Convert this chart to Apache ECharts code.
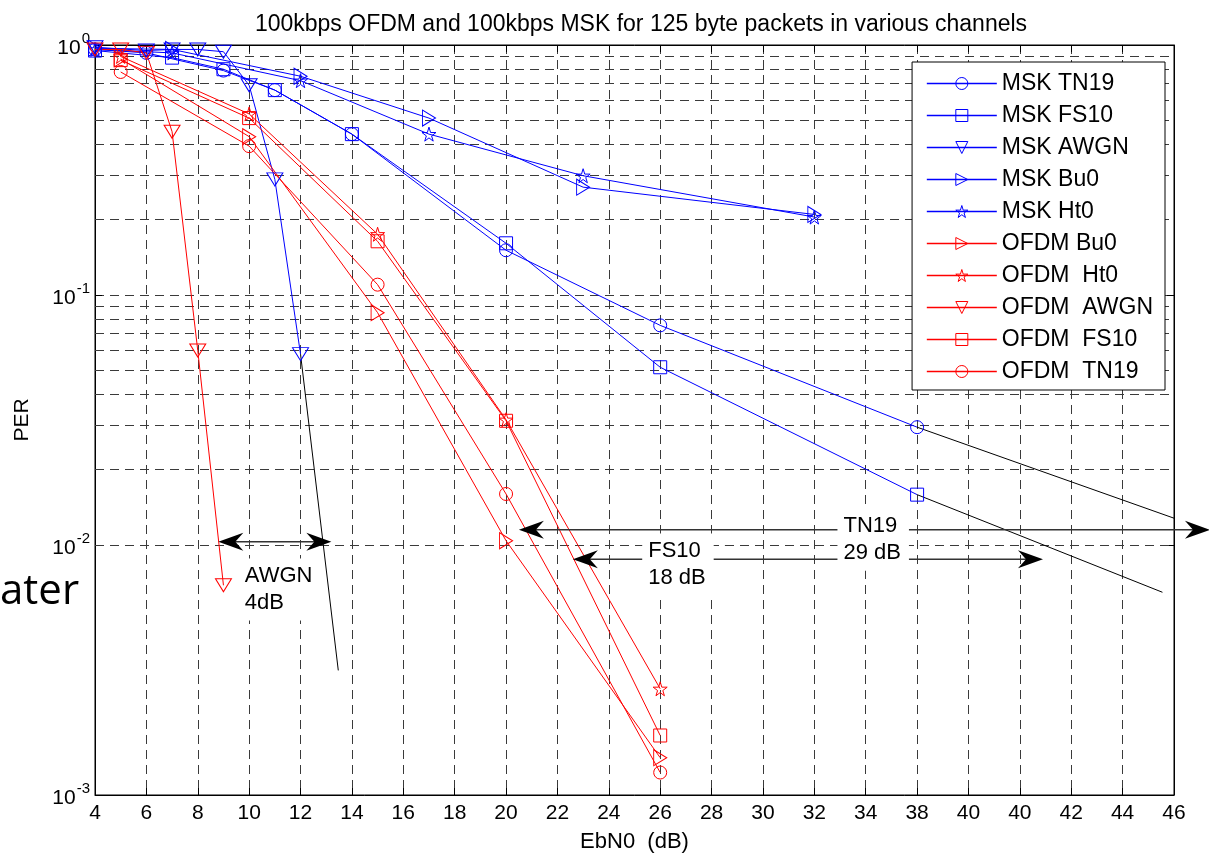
<!DOCTYPE html>
<html>
<head>
<meta charset="utf-8">
<script src="https://cdn.jsdelivr.net/npm/echarts@6/dist/echarts.min.js"></script>
<style>
  html, body { margin: 0; padding: 0; background: #fff; }
  #chart { width: 1209px; height: 853px; }
</style>
</head>
<body>
<div id="chart"></div>
<script>
// tick labels as printed under the x axis (positions 4..46 step 2)
const xTickLabels = ['4', '6', '8', '10', '12', '14', '16', '18', '20', '22', '24',
  '26', '28', '30', '32', '34', '38', '40', '40', '42', '44', '46'];

// MSK curves
const mskTn19X = [4, 6, 9, 11, 14, 20, 26, 36];
const mskTn19Y = [0.96, 0.93, 0.79, 0.66, 0.44, 0.151, 0.0756, 0.0296];
const mskFs10X = [4, 7, 9, 11, 14, 20, 26, 36];
const mskFs10Y = [0.95, 0.89, 0.80, 0.66, 0.44, 0.161, 0.0514, 0.0159];
const mskAwgnX = [4, 6, 7, 8, 9, 10, 11, 12];
const mskAwgnY = [0.98, 0.95, 0.96, 0.96, 0.94, 0.69, 0.29, 0.058];
const mskBu0X = [4, 7, 12, 17, 23, 32];
const mskBu0Y = [0.97, 0.96, 0.75, 0.51, 0.27, 0.21];
const mskHt0X = [4, 7, 12, 17, 23, 32];
const mskHt0Y = [0.96, 0.93, 0.72, 0.44, 0.30, 0.205];

// OFDM curves
const ofdmBu0X = [5, 10, 15, 20, 26];
const ofdmBu0Y = [0.88, 0.43, 0.085, 0.0104, 0.00141];
const ofdmHt0X = [5, 10, 15, 20, 26];
const ofdmHt0Y = [0.90, 0.53, 0.175, 0.0317, 0.00266];
const ofdmAwgnX = [4, 5, 6, 7, 8, 9];
const ofdmAwgnY = [0.96, 0.96, 0.93, 0.45, 0.060, 0.0069];
const ofdmFs10X = [5, 10, 15, 20, 26];
const ofdmFs10Y = [0.87, 0.51, 0.164, 0.0314, 0.00173];
const ofdmTn19X = [5, 10, 15, 20, 26];
const ofdmTn19Y = [0.78, 0.394, 0.110, 0.0160, 0.00123];

// hand drawn black extrapolation lines
const awgnExtX = [12, 13.47];
const awgnExtY = [0.058, 0.00315];
const tn19ExtX = [36, 46];
const tn19ExtY = [0.0296, 0.0128];
const fs10ExtX = [36, 45.55];
const fs10ExtY = [0.0159, 0.00647];

// gap arrows: [x from, x to, PER level]
const gapArrows = [
  [8.8, 13.2, 0.0103],
  [22.6, 40.9, 0.00878],
  [20.5, 47.4, 0.0115]
];

// annotation texts: [x of left edge, PER level, text]
const notes = [
  [9.6, 0.00663, 'AWGN\n4dB'],
  [25.3, 0.00835, 'FS10\n18 dB'],
  [32.9, 0.0105, 'TN19\n29 dB']
];

const FONT = "'Liberation Sans', Arial, sans-serif";
const BLUE = '#0000ff';
const RED = '#ff0000';
const CLEAR = 'rgba(255,255,255,0)';
const STAR = 'path://M50,0 L61,35 L98,35 L68,57 L79,91 L50,70 L21,91 L32,57 L2,35 L39,35 Z';

const marks = {
  circle: { symbol: 'circle', symbolSize: 13, symbolRotate: 0 },
  square: { symbol: 'rect', symbolSize: 13, symbolRotate: 0 },
  down: { symbol: 'triangle', symbolSize: [16, 13], symbolRotate: 180 },
  right: { symbol: 'triangle', symbolSize: [16, 13], symbolRotate: -90 },
  star: { symbol: STAR, symbolSize: 14, symbolRotate: 0 }
};

function pairs(xs, ys) {
  return xs.map((x, i) => [x, ys[i]]);
}

function curve(name, xs, ys, color, mark) {
  return {
    name: name,
    type: 'line',
    data: pairs(xs, ys),
    symbol: marks[mark].symbol,
    symbolSize: marks[mark].symbolSize,
    symbolRotate: marks[mark].symbolRotate,
    showAllSymbol: true,
    lineStyle: { color: color, width: 1 },
    itemStyle: { color: CLEAR, borderColor: color, borderWidth: 1 },
    emphasis: { disabled: true },
    z: 3
  };
}

function legendItem(name, color) {
  return {
    name: name,
    lineStyle: { color: color, width: 1.5 },
    itemStyle: { color: CLEAR, borderColor: color, borderWidth: 1 }
  };
}

function blackLine(xs, ys) {
  return {
    type: 'line',
    data: pairs(xs, ys),
    symbol: 'none',
    lineStyle: { color: '#000', width: 1 },
    silent: true,
    z: 3
  };
}

// minor grid for the log axis (2..9 in every decade)
const minorLevels = [];
[0.001, 0.01, 0.1].forEach(d => {
  for (let k = 2; k <= 9; k++) minorLevels.push(+(d * k).toPrecision(3));
});

const gridDash = { color: '#3a3a3a', width: 1, type: [9, 6] };

// double headed arrow drawn between two data points
function renderArrow(params, api) {
  const a = api.coord([api.value(0), api.value(2)]);
  const b = api.coord([api.value(1), api.value(2)]);
  const L = 25, H = 9, N = 17;
  const head = (tip, d) => ({
    type: 'polygon',
    shape: {
      points: [
        [tip[0], tip[1]],
        [tip[0] + d * L, tip[1] - H],
        [tip[0] + d * N, tip[1]],
        [tip[0] + d * L, tip[1] + H]
      ]
    },
    style: { fill: '#000' }
  });
  return {
    type: 'group',
    children: [
      {
        type: 'line',
        shape: { x1: a[0] + 10, y1: a[1], x2: b[0] - 10, y2: b[1] },
        style: { stroke: '#333', lineWidth: 1.5 }
      },
      head(a, 1),
      head(b, -1)
    ]
  };
}

const chart = echarts.init(document.getElementById('chart'), null, { renderer: 'canvas' });

chart.setOption({
  animation: false,
  backgroundColor: '#fff',
  textStyle: { fontFamily: FONT },
  title: {
    text: '100kbps OFDM and 100kbps MSK for 125 byte packets in various channels',
    left: 636,
    top: 8,
    textAlign: 'center',
    textStyle: { fontFamily: FONT, fontSize: 23, fontWeight: 'normal', color: '#000' }
  },
  grid: {
    left: 95, right: 35, top: 45, bottom: 58,
    outerBoundsMode: 'none',
    show: true, borderColor: '#000', borderWidth: 1, backgroundColor: '#fff'
  },
  legend: {
    orient: 'vertical',
    right: 44,
    top: 62,
    itemWidth: 70,
    itemHeight: 15,
    itemGap: 9,
    padding: [10, 12, 7, 14],
    backgroundColor: '#fff',
    borderColor: '#000',
    borderWidth: 1,
    borderRadius: 0,
    selectedMode: false,
    textStyle: { fontFamily: FONT, fontSize: 23, color: '#000', lineHeight: 22 },
    data: [
      legendItem('MSK TN19', BLUE), legendItem('MSK FS10', BLUE), legendItem('MSK AWGN', BLUE),
      legendItem('MSK Bu0', BLUE), legendItem('MSK Ht0', BLUE),
      legendItem('OFDM Bu0', RED), legendItem('OFDM  Ht0', RED), legendItem('OFDM  AWGN', RED),
      legendItem('OFDM  FS10', RED), legendItem('OFDM  TN19', RED)
    ]
  },
  xAxis: [{
    type: 'value',
    min: 4, max: 46, interval: 2,
    name: 'EbN0  (dB)',
    nameLocation: 'middle',
    nameGap: 36,
    nameTextStyle: { fontFamily: FONT, fontSize: 22, color: '#000' },
    axisLine: { show: true, lineStyle: { color: '#000' } },
    axisTick: { show: true, inside: true, length: 7, lineStyle: { color: '#000' } },
    axisLabel: {
      fontFamily: FONT, fontSize: 21, color: '#000', margin: 8,
      formatter: v => xTickLabels[Math.round((v - 4) / 2)]
    },
    splitLine: { show: true, lineStyle: gridDash }
  }, {
    type: 'value',
    position: 'top',
    min: 4, max: 46, interval: 2,
    axisLine: { show: true, lineStyle: { color: '#000' } },
    axisTick: { show: true, inside: true, length: 7, lineStyle: { color: '#000' } },
    axisLabel: { show: false },
    splitLine: { show: false }
  }],
  yAxis: [{
    type: 'log',
    min: 0.001, max: 1, logBase: 10,
    name: 'PER',
    nameLocation: 'middle',
    nameGap: 62,
    nameRotate: 90,
    nameTextStyle: { fontFamily: FONT, fontSize: 21, color: '#000' },
    axisLine: { show: true, lineStyle: { color: '#000' } },
    axisTick: { show: true, inside: true, length: 7, lineStyle: { color: '#000' } },
    axisLabel: {
      margin: 5,
      formatter: v => '{b|10}{s|' + Math.round(Math.log10(v)) + '}',
      rich: {
        b: { fontFamily: FONT, fontSize: 21, color: '#000', verticalAlign: 'bottom' },
        s: { fontFamily: FONT, fontSize: 15, color: '#000', verticalAlign: 'top', padding: [0, 0, 12, 1] }
      }
    },
    splitLine: { show: true, lineStyle: gridDash }
  }, {
    type: 'log',
    min: 0.001, max: 1, logBase: 10,
    position: 'right',
    axisLine: { show: true, lineStyle: { color: '#000' } },
    axisTick: { show: true, inside: true, length: 7, lineStyle: { color: '#000' } },
    axisLabel: { show: false },
    splitLine: { show: false }
  }],
  series: [
    {
      type: 'line',
      data: [],
      silent: true,
      markLine: {
        silent: true,
        symbol: 'none',
        z: 1,
        label: { show: false },
        lineStyle: gridDash,
        emphasis: { disabled: true },
        data: minorLevels.map(v => ({ yAxis: v }))
      }
    },
    curve('MSK TN19', mskTn19X, mskTn19Y, BLUE, 'circle'),
    curve('MSK FS10', mskFs10X, mskFs10Y, BLUE, 'square'),
    curve('MSK AWGN', mskAwgnX, mskAwgnY, BLUE, 'down'),
    curve('MSK Bu0', mskBu0X, mskBu0Y, BLUE, 'right'),
    curve('MSK Ht0', mskHt0X, mskHt0Y, BLUE, 'star'),
    curve('OFDM Bu0', ofdmBu0X, ofdmBu0Y, RED, 'right'),
    curve('OFDM  Ht0', ofdmHt0X, ofdmHt0Y, RED, 'star'),
    curve('OFDM  AWGN', ofdmAwgnX, ofdmAwgnY, RED, 'down'),
    curve('OFDM  FS10', ofdmFs10X, ofdmFs10Y, RED, 'square'),
    curve('OFDM  TN19', ofdmTn19X, ofdmTn19Y, RED, 'circle'),
    blackLine(awgnExtX, awgnExtY),
    blackLine(tn19ExtX, tn19ExtY),
    blackLine(fs10ExtX, fs10ExtY),
    {
      type: 'custom',
      silent: true,
      clip: false,
      z: 6,
      encode: { x: [0, 1], y: 2 },
      renderItem: renderArrow,
      data: gapArrows
    },
    {
      type: 'line',
      data: [],
      silent: true,
      markPoint: {
        silent: true,
        z: 8,
        symbol: 'rect',
        symbolSize: 1,
        itemStyle: { color: CLEAR },
        label: {
          show: true,
          position: 'inside',
          align: 'left',
          verticalAlign: 'middle',
          fontFamily: FONT,
          fontSize: 22,
          lineHeight: 27,
          color: '#000',
          backgroundColor: '#fff',
          padding: [4, 8, 4, 6],
          formatter: p => p.data.txt
        },
        data: notes.map(n => ({ coord: [n[0], n[1]], txt: n[2] }))
      }
    }
  ],
  graphic: [{
    type: 'text',
    left: 0,
    top: 571,
    style: { text: 'ater', fontFamily: "'Open Sans', sans-serif", fontSize: 42, fill: '#000' }
  }]
});
</script>
</body>
</html>
